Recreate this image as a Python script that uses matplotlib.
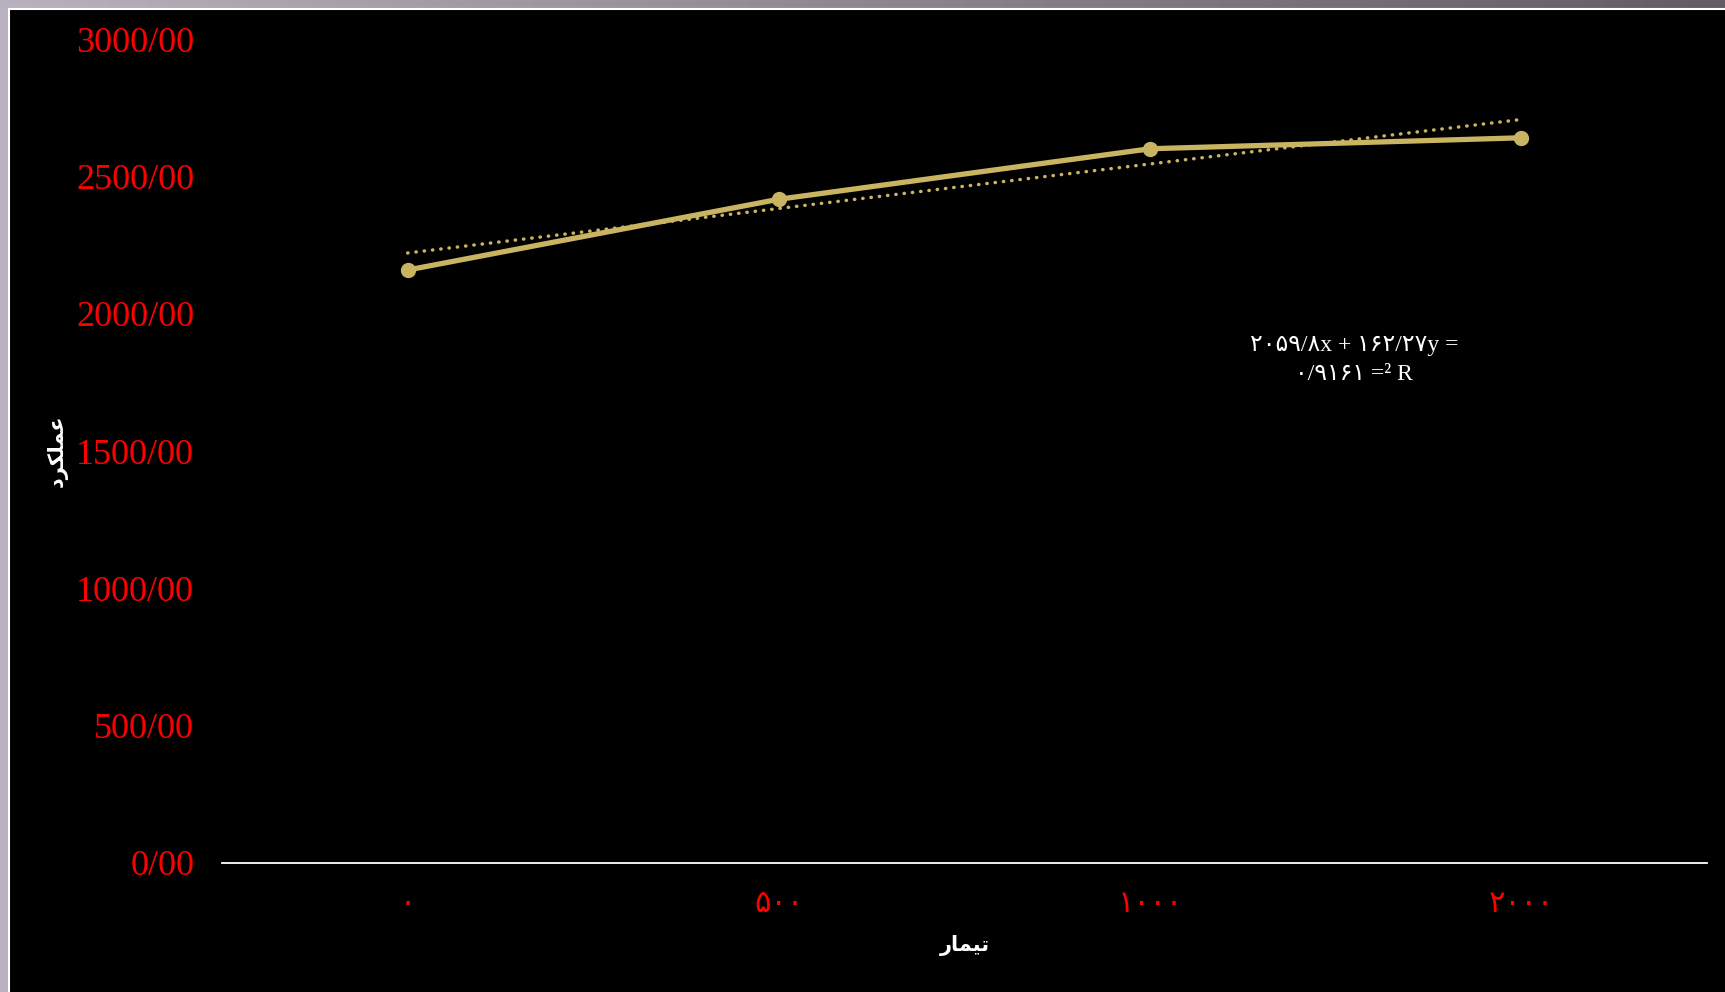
import matplotlib
matplotlib.use('Agg')
import matplotlib.pyplot as plt
import numpy as np
from matplotlib.patches import Rectangle

# treatments (Persian digits) and measured performance
xLabels = ['\u06f0', '\u06f5\u06f0\u06f0', '\u06f1\u06f0\u06f0\u06f0', '\u06f2\u06f0\u06f0\u06f0']
performance = [2160, 2418, 2602, 2642]
yTicks = [0, 500, 1000, 1500, 2000, 2500, 3000]

# linear trend as stated on the chart
slope = 162.27
intercept = 2059.8
eqLine1 = '\u06f2\u06f0\u06f5\u06f9/\u06f8x + \u06f1\u06f6\u06f2/\u06f2\u06f7y ='
eqLine2 = '\u06f0/\u06f9\u06f1\u06f6\u06f1 =\u00b2 R'

# shaped Persian labels (presentation forms, visual order)
xTitle = '\uFEAD\uFE8E\uFEE4\uFBFF\uFE97'              # تیمار
yTitle = '\uFEA9\uFEAE\uFB91\uFEE0\uFEE4\uFECB'        # عملکرد

serif = ['Liberation Serif', 'DejaVu Sans']
lineColor = '#C9B462'

fig = plt.figure(figsize=[17.25, 9.92], dpi=100)

# grey gradient frame behind the chart area
bg = fig.add_axes([0, 0, 1, 1])
bg.set_zorder(-10)
grad = np.linspace(0, 1, 256)[None, :]
cmap = matplotlib.colors.LinearSegmentedColormap.from_list('frame', ['#b7b2bd', '#8d8890', '#625c63'])
bg.imshow(grad, aspect='auto', cmap=cmap, extent=[0, 1, 0, 1])
bg.add_patch(Rectangle((9 / 1725, -0.01), 1.0, 1 - 9 / 992 + 0.01, transform=bg.transAxes,
                       facecolor='black', edgecolor='white', linewidth=1.5, zorder=2))
bg.set_xlim(0, 1)
bg.set_ylim(0, 1)
bg.set_axis_off()

ax = fig.add_axes([0.1287, 0.1305, 0.8609, 0.8296])
ax.set_facecolor('none')
x = np.arange(len(performance))
ax.plot(x, performance, '-o', color=lineColor, linewidth=3.8, markersize=10, zorder=5)

# round dotted trend line
xt = np.array([0.0, 2.99])
ax.plot(xt, slope * (xt + 1) + intercept, color=lineColor, linewidth=2.5,
        dashes=(0.1, 2.3), dash_capstyle='round', zorder=4)

ax.set_xlim(-0.5, 3.5)
ax.set_ylim(0, 3000)
ax.set_yticks(yTicks)
ax.set_yticklabels(['%d/00' % v for v in yTicks], color='#ff0000', fontsize=26, family=serif)
ax.set_xticks(x)
ax.set_xticklabels(xLabels, color='#ff0000', fontsize=22, family=serif)
ax.tick_params(length=0, pad=20, axis='y')
ax.tick_params(length=0, pad=20, axis='x')

for side in ['top', 'right', 'left']:
    ax.spines[side].set_visible(False)
ax.spines['bottom'].set_color('white')
ax.spines['bottom'].set_linewidth(1.3)

ax.set_xlabel(xTitle, color='white', fontsize=15, fontweight='bold', labelpad=11)
ax.set_ylabel(yTitle, color='white', fontsize=15, fontweight='bold', rotation=90)
ax.yaxis.set_label_coords(-0.104, 0.5)

ax.text(2.55, 1885, eqLine1, color='white', fontsize=17, family=serif, ha='center', va='center')
ax.text(2.55, 1778, eqLine2, color='white', fontsize=17, family=serif, ha='center', va='center')

plt.savefig('out.png', dpi=100, facecolor='#8d8890')
